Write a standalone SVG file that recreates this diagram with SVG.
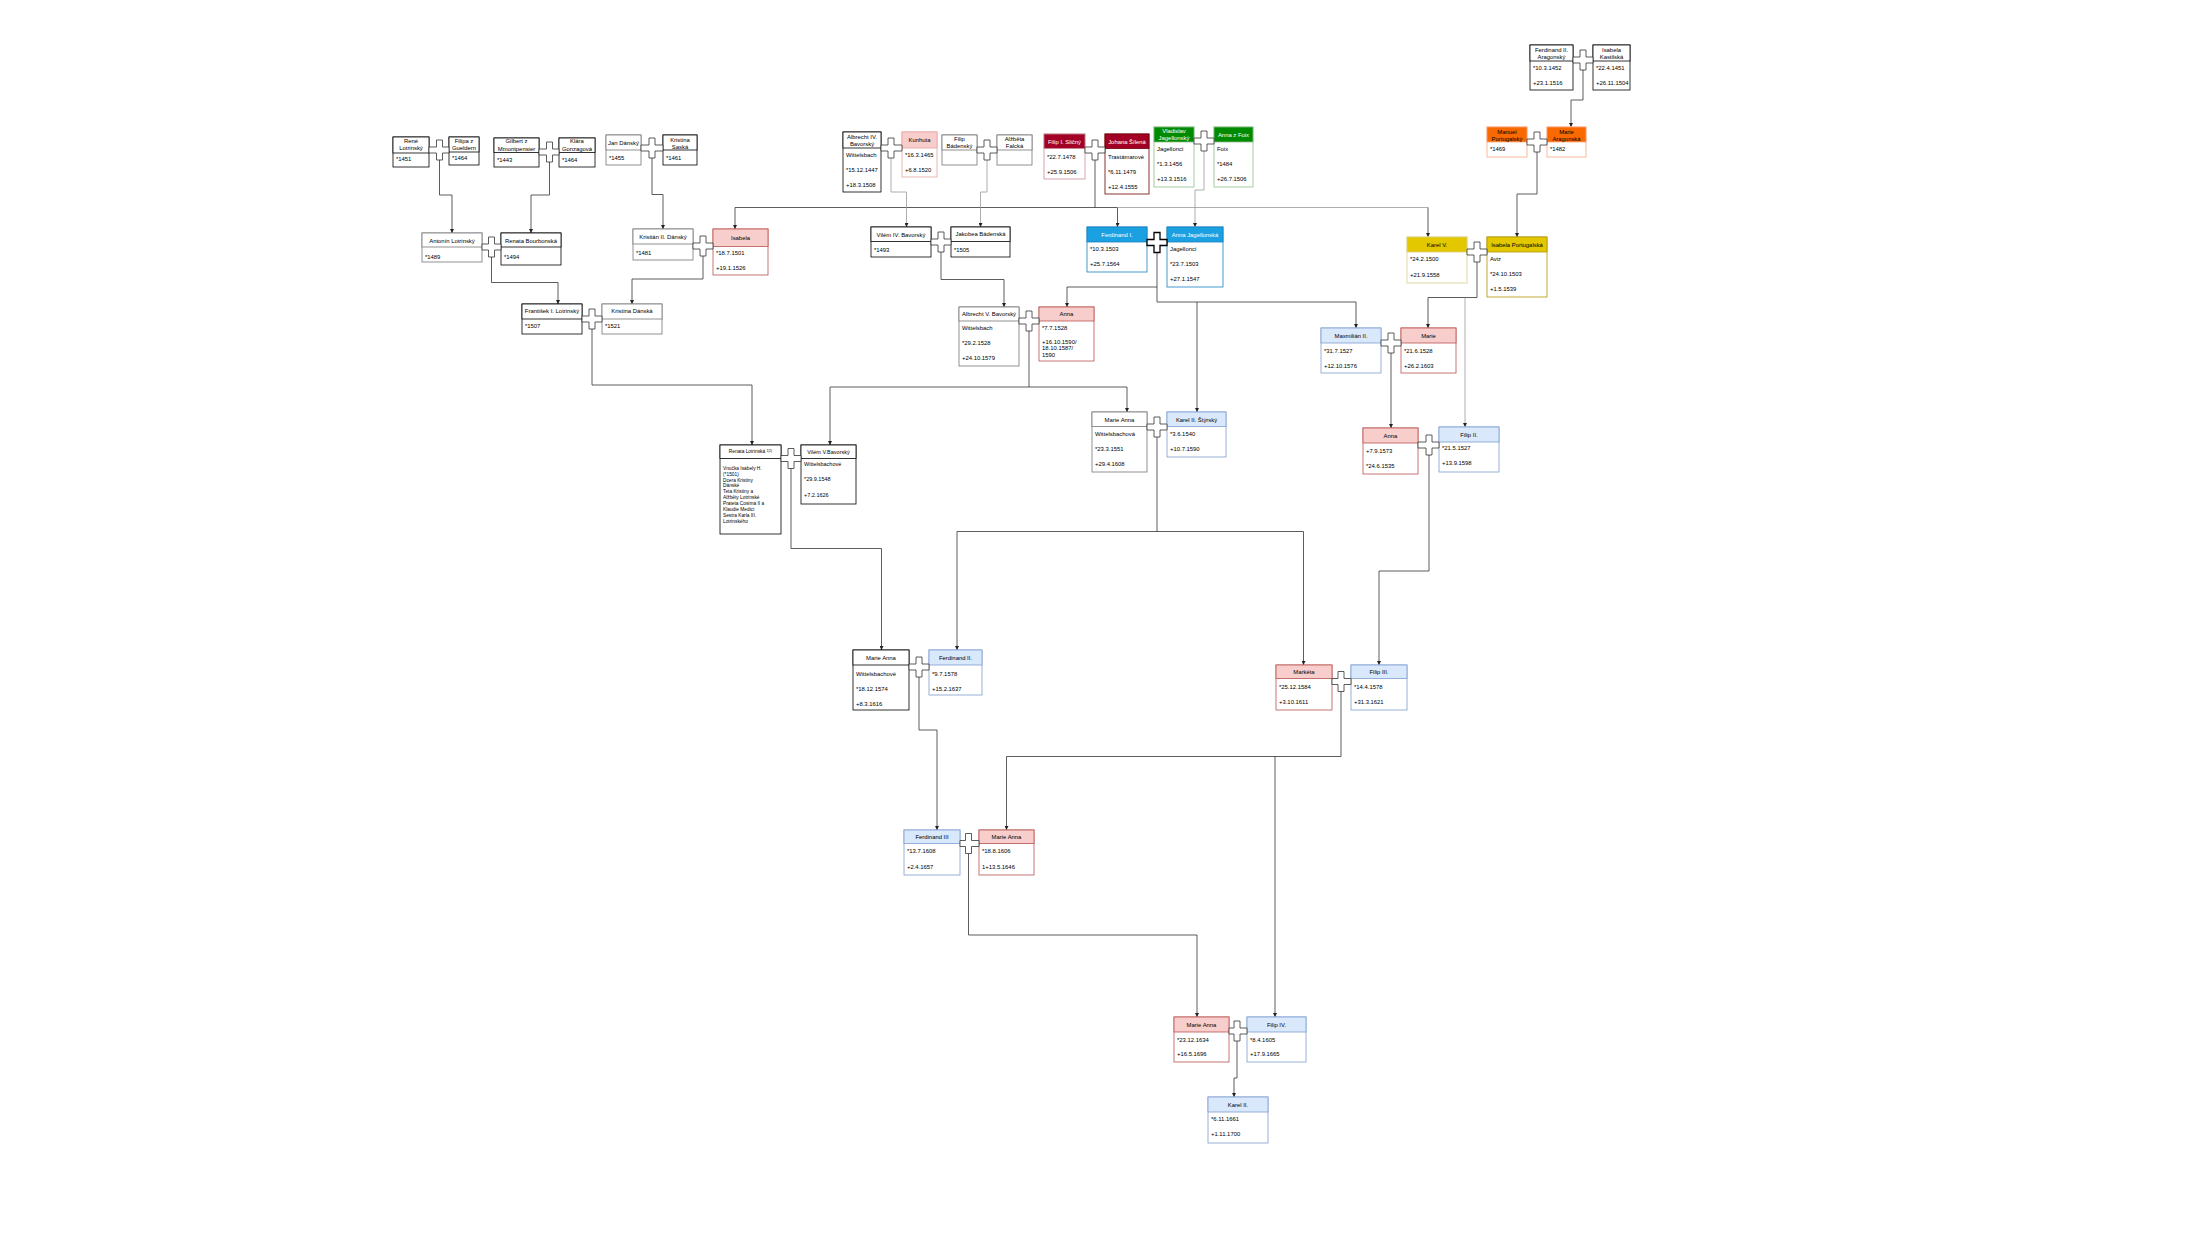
<svg xmlns="http://www.w3.org/2000/svg" width="2205" height="1241" viewBox="0 0 2205 1241">
<style>
rect{stroke-width:0.8}
.bd{fill:#fff}
.k{stroke:#000}.gy{stroke:#777}.pk{stroke:#b85450}.pl{stroke:#e6a3a3}.lb{stroke:#7e9fd0}.bl{stroke:#1a7fc0}.dr{stroke:#6f0000}.dl{stroke:#c98c98}.gr{stroke:#8cbf8c}.ye{stroke:#b09500}.yl{stroke:#d9d08a}.or{stroke:#f4a983}
.fw{fill:#fff}.fpk{fill:#f8cecc}.flb{fill:#dae8fc}.fbl{fill:#1ba1e2}.fdr{fill:#a20025}.fgr{fill:#008a00}.fye{fill:#e3c800}.for{fill:#fa6800}
text{font-family:"Liberation Sans",Arial,Helvetica,sans-serif;font-size:5.9px;fill:#000}
.m{text-anchor:middle}
.w{fill:#fff}
.s{font-size:4.8px}
#connectors path{fill:none;stroke:#333;stroke-width:0.8}
#connectors path.g{stroke:#999}
#marriages path{fill:#fff;stroke:#333;stroke-width:0.8}
</style>
<defs>
<marker id="ar" viewBox="0 0 6 6" refX="6" refY="3" markerUnits="userSpaceOnUse" markerWidth="4" markerHeight="4" orient="auto"><path d="M0,0 L6,3 L0,6 z" fill="#222"/></marker>
</defs>
<rect x="0" y="0" width="2205" height="1241" fill="#fff"/>

<g id="connectors">
<path d="M439.5,160 V195 H452 V233" marker-end="url(#ar)"/>
<path d="M549.5,162 V195 H531 V233" marker-end="url(#ar)"/>
<path d="M652,158 V194.5 H663 V229" marker-end="url(#ar)"/>
<path d="M1095,160 V207.5 H735 V229" marker-end="url(#ar)"/>
<path d="M1095,207.5 H1117.5 V227" marker-end="url(#ar)"/>
<path class="g" d="M1117.5,207.5 H1428"/>
<path d="M1428,207.5 V237" marker-end="url(#ar)"/>
<path class="g" d="M891,158 V192 H906.5 V227" marker-end="url(#ar)"/>
<path class="g" d="M987,160 V192 H980.5 V227" marker-end="url(#ar)"/>
<path class="g" d="M1204,151 V190 H1195 V227" marker-end="url(#ar)"/>
<path d="M1537,152 V194 H1517 V237" marker-end="url(#ar)"/>
<path d="M1583,70 V100 H1571 V127" marker-end="url(#ar)"/>
<path d="M491.5,257 V282.5 H558 V304" marker-end="url(#ar)"/>
<path d="M703,256 V279 H632 V304" marker-end="url(#ar)"/>
<path d="M941,252 V279.5 H1004 V307" marker-end="url(#ar)"/>
<path d="M1157,252.5 V287 H1067 V307" marker-end="url(#ar)"/>
<path d="M1157,287 V302 H1356 V328" marker-end="url(#ar)"/>
<path d="M1197,302 V412" marker-end="url(#ar)"/>
<path d="M1477,262 V297.5 H1428 V328" marker-end="url(#ar)"/>
<path class="g" d="M1465,297.5 V427" marker-end="url(#ar)"/>
<path d="M1391,353 V428" marker-end="url(#ar)"/>
<path d="M592,329 V385 H752 V445" marker-end="url(#ar)"/>
<path d="M1029,331 V387 H830 V445" marker-end="url(#ar)"/>
<path d="M1029,387 H1127 V412" marker-end="url(#ar)"/>
<path d="M791,468.5 V548.5 H881.5 V650" marker-end="url(#ar)"/>
<path d="M1157,437 V531.5 H957 V650" marker-end="url(#ar)"/>
<path d="M1157,531.5 H1303.5 V665" marker-end="url(#ar)"/>
<path d="M1429,455 V571 H1379 V665" marker-end="url(#ar)"/>
<path d="M919,677 V730 H937 V830" marker-end="url(#ar)"/>
<path d="M1341,691.5 V756.5 H1006.5 V830" marker-end="url(#ar)"/>
<path d="M1275,756.5 V1017" marker-end="url(#ar)"/>
<path d="M968.5,853.5 V935 H1197 V1017" marker-end="url(#ar)"/>
<path d="M1237,1041 V1078 H1234 V1097" marker-end="url(#ar)"/>
</g>

<g id="n-rene"><rect class="bd k" x="393" y="137" width="36" height="30"/><rect class="fw k" x="393" y="137" width="36" height="16"/><text class="m" x="411" y="143">René</text><text class="m" x="411" y="150.3">Lotrinský</text><text x="396" y="161">*1451</text></g>
<g id="n-filipa"><rect class="bd k" x="449" y="137" width="30" height="28"/><rect class="fw k" x="449" y="137" width="30" height="15"/><text class="m" x="464" y="142.5">Filipa z</text><text class="m" x="464" y="149.8">Gueldern</text><text x="452" y="160">*1464</text></g>
<g id="n-gilbert"><rect class="bd k" x="494" y="138" width="45" height="29"/><rect class="fw k" x="494" y="138" width="45" height="14.5"/><text class="m" x="516.5" y="143.3">Gilbert z</text><text class="m" x="516.5" y="150.5">Mmontpensier</text><text x="497" y="161.5">*1443</text></g>
<g id="n-klara"><rect class="bd k" x="559" y="138" width="36" height="29"/><rect class="fw k" x="559" y="138" width="36" height="14.5"/><text class="m" x="577" y="143.3">Klára</text><text class="m" x="577" y="150.5">Gonzagová</text><text x="562" y="161.5">*1464</text></g>
<g id="n-jan"><rect class="bd gy" x="606" y="135" width="35" height="30"/><rect class="fw gy" x="606" y="135" width="35" height="15"/><text class="m" x="623.5" y="144.8">Jan Dánský</text><text x="609" y="159.5">*1455</text></g>
<g id="n-kristina-saska"><rect class="bd k" x="663" y="135" width="34" height="30"/><rect class="fw k" x="663" y="135" width="34" height="15"/><text class="m" x="680" y="141.5">Kristina</text><text class="m" x="680" y="148.8">Saská</text><text x="666" y="159.5">*1461</text></g>

<g id="n-antonin"><rect class="bd gy" x="422" y="233" width="60" height="29"/><rect class="fw gy" x="422" y="233" width="60" height="14"/><text class="m" x="452" y="242.8">Antonín Lotrinský</text><text x="425" y="258.5">*1489</text></g>
<g id="n-renata-b"><rect class="bd k" x="501" y="233" width="60" height="32"/><rect class="fw k" x="501" y="233" width="60" height="14"/><text class="m" x="531" y="242.8">Renata Bourbonská</text><text x="504" y="258.5">*1494</text></g>
<g id="n-kristian"><rect class="bd gy" x="633" y="229" width="60" height="31"/><rect class="fw gy" x="633" y="229" width="60" height="15"/><text class="m" x="663" y="239.3">Kristián II. Dánský</text><text x="636" y="254.8">*1481</text></g>
<g id="n-isabela"><rect class="bd pk" x="713" y="229" width="55" height="46"/><rect class="fpk pk" x="713" y="229" width="55" height="17.5"/><text class="m" x="740.5" y="239.8">Isabela</text><text x="716" y="254.8">*18.7.1501</text><text x="716" y="269.8">+19.1.1526</text></g>
<g id="n-frantisek"><rect class="bd k" x="522" y="304" width="60" height="30"/><rect class="fw k" x="522" y="304" width="60" height="15"/><text class="m" x="552" y="313.3">František I. Lotrinský</text><text x="525" y="328.3">*1507</text></g>
<g id="n-kristina-danska"><rect class="bd gy" x="602" y="304" width="60" height="30"/><rect class="fw gy" x="602" y="304" width="60" height="15"/><text class="m" x="632" y="313.3">Kristina Dánská</text><text x="605" y="328.3">*1521</text></g>

<g id="n-albrecht4"><rect class="bd k" x="843" y="132" width="38" height="60"/><rect class="fw k" x="843" y="132" width="38" height="16"/><text class="m" x="862" y="138.5">Albrecht IV.</text><text class="m" x="862" y="145.5">Bavorský</text><text x="846" y="156.5">Wittelsbach</text><text x="846" y="171.5">*15.12.1447</text><text x="846" y="186.5">+18.3.1508</text></g>
<g id="n-kunhuta"><rect class="bd pl" x="902" y="132" width="35" height="45"/><rect class="fpk pl" x="902" y="132" width="35" height="16"/><text class="m" x="919.5" y="142.2">Kunhuta</text><text x="905" y="156.5">*16.3.1465</text><text x="905" y="171.5">+6.8.1520</text></g>
<g id="n-filip-b"><rect class="bd gy" x="942" y="135" width="35" height="30"/><rect class="fw gy" x="942" y="135" width="35" height="15"/><text class="m" x="959.5" y="140.5">Filip</text><text class="m" x="959.5" y="148">Bádenský</text></g>
<g id="n-alzbeta"><rect class="bd gy" x="997" y="135" width="35" height="30"/><rect class="fw gy" x="997" y="135" width="35" height="15"/><text class="m" x="1014.5" y="140.5">Alžběta</text><text class="m" x="1014.5" y="148">Falcká</text></g>
<g id="n-filip1"><rect class="bd dl" x="1044" y="134" width="41" height="45"/><rect class="fdr dl" x="1044" y="134" width="41" height="14.5"/><text class="m w" x="1064.5" y="143.5">Filip I. Sličný</text><text x="1047" y="158.8">*22.7.1478</text><text x="1047" y="173.8">+25.9.1506</text></g>
<g id="n-johana"><rect class="bd dr" x="1105" y="134" width="44" height="60"/><rect class="fdr dr" x="1105" y="134" width="44" height="14.5"/><text class="m w" x="1127" y="143.5">Johana Šílená</text><text x="1108" y="158.8">Trastámarové</text><text x="1108" y="173.8">*6.11.1479</text><text x="1108" y="188.8">+12.4.1555</text></g>
<g id="n-vladislav"><rect class="bd gr" x="1154" y="127" width="40" height="60"/><rect class="fgr gr" x="1154" y="127" width="40" height="15"/><text class="m w" x="1174" y="132.6">Vladislav</text><text class="m w" x="1174" y="139.8">Jagellonský</text><text x="1157" y="151.4">Jagellonci</text><text x="1157" y="166.4">*1.3.1456</text><text x="1157" y="181.4">+13.3.1516</text></g>
<g id="n-anna-foix"><rect class="bd gr" x="1214" y="127" width="39" height="60"/><rect class="fgr gr" x="1214" y="127" width="39" height="15"/><text class="m w" x="1233.5" y="136.8">Anna z Foix</text><text x="1217" y="151.4">Foix</text><text x="1217" y="166.4">*1484</text><text x="1217" y="181.4">+26.7.1506</text></g>
<g id="n-ferdinand-ar"><rect class="bd k" x="1530" y="45" width="43" height="45"/><rect class="fw k" x="1530" y="45" width="43" height="16"/><text class="m" x="1551.5" y="51.8">Ferdinand II.</text><text class="m" x="1551.5" y="59">Aragonský</text><text x="1533" y="70.4">*10.3.1452</text><text x="1533" y="84.8">+23.1.1516</text></g>
<g id="n-isabela-k"><rect class="bd k" x="1593" y="45" width="37" height="45"/><rect class="fw k" x="1593" y="45" width="37" height="16"/><text class="m" x="1611.5" y="51.8">Isabela</text><text class="m" x="1611.5" y="59">Kastilská</text><text x="1596" y="70.4">*22.4.1451</text><text x="1596" y="84.8">+26.11.1504</text></g>
<g id="n-manuel"><rect class="bd or" x="1487" y="127" width="40" height="30"/><rect class="for or" x="1487" y="127" width="40" height="15"/><text class="m" x="1507" y="133.6">Manuel</text><text class="m" x="1507" y="140.8">Portugalský</text><text x="1490" y="151.2">*1469</text></g>
<g id="n-marie-ar"><rect class="bd or" x="1547" y="127" width="39" height="30"/><rect class="for or" x="1547" y="127" width="39" height="15"/><text class="m" x="1566.5" y="133.6">Marie</text><text class="m" x="1566.5" y="140.8">Aragonská</text><text x="1550" y="151.2">*1482</text></g>

<g id="n-vilem4"><rect class="bd k" x="871" y="227" width="60" height="30"/><rect class="fw k" x="871" y="227" width="60" height="14.5"/><text class="m" x="901" y="236.6">Vilém IV. Bavorský</text><text x="874" y="252">*1493</text></g>
<g id="n-jakobea"><rect class="bd k" x="951" y="227" width="59" height="30"/><rect class="fw k" x="951" y="227" width="59" height="14.5"/><text class="m" x="980.5" y="236.3">Jakobea Bádenská</text><text x="954" y="252">*1505</text></g>
<g id="n-ferdinand1"><rect class="bd bl" x="1087" y="227" width="60" height="45"/><rect class="fbl bl" x="1087" y="227" width="60" height="15"/><text class="m w" x="1117" y="236.6">Ferdinand I.</text><text x="1090" y="251.4">*10.3.1503</text><text x="1090" y="266.4">+25.7.1564</text></g>
<g id="n-anna-jag"><rect class="bd bl" x="1167" y="227" width="56" height="60"/><rect class="fbl bl" x="1167" y="227" width="56" height="15"/><text class="m w" x="1195" y="236.6">Anna Jagellonská</text><text x="1170" y="251.4">Jagellonci</text><text x="1170" y="266.4">*23.7.1503</text><text x="1170" y="281.4">+27.1.1547</text></g>
<g id="n-karel5"><rect class="bd yl" x="1407" y="237" width="60" height="46"/><rect class="fye yl" x="1407" y="237" width="60" height="15"/><text class="m" x="1437" y="246.8">Karel V.</text><text x="1410" y="261.4">*24.2.1500</text><text x="1410" y="276.8">+21.9.1558</text></g>
<g id="n-isabela-p"><rect class="bd ye" x="1487" y="237" width="60" height="60"/><rect class="fye ye" x="1487" y="237" width="60" height="15"/><text class="m" x="1517" y="246.8">Isabela Portugalská</text><text x="1490" y="261.4">Aviz</text><text x="1490" y="276.4">*24.10.1503</text><text x="1490" y="291.4">+1.5.1539</text></g>

<g id="n-albrecht5"><rect class="bd gy" x="959" y="307" width="60" height="59"/><rect class="fw gy" x="959" y="307" width="60" height="14"/><text class="m" x="989" y="316.3">Albrecht V. Bavorský</text><text x="962" y="330.4">Wittelsbach</text><text x="962" y="345.4">*29.2.1528</text><text x="962" y="359.8">+24.10.1579</text></g>
<g id="n-anna-b"><rect class="bd pk" x="1039" y="307" width="55" height="54"/><rect class="fpk pk" x="1039" y="307" width="55" height="14"/><text class="m" x="1066.5" y="316.3">Anna</text><text x="1042" y="330.4">*7.7.1528</text><text x="1042" y="343.6">+16.10.1590/</text><text x="1042" y="350.3">18.10.1587/</text><text x="1042" y="357">1590</text></g>
<g id="n-maxmilian"><rect class="bd lb" x="1321" y="328" width="60" height="45"/><rect class="flb lb" x="1321" y="328" width="60" height="15"/><text class="m" x="1351" y="338">Maxmilián II.</text><text x="1324" y="352.8">*31.7.1527</text><text x="1324" y="367.8">+12.10.1576</text></g>
<g id="n-marie"><rect class="bd pk" x="1401" y="328" width="55" height="45"/><rect class="fpk pk" x="1401" y="328" width="55" height="15"/><text class="m" x="1428.5" y="338">Marie</text><text x="1404" y="352.8">*21.6.1528</text><text x="1404" y="367.8">+26.2.1603</text></g>

<g id="n-renata-l"><rect class="bd k" x="720" y="445" width="61" height="89"/><rect class="fw k" x="720" y="445" width="61" height="13.5"/><text class="m" x="750.5" y="453" style="font-size:4.8px">Renata Lotrinská <tspan style="font-size:3.2px" dy="-1.5">1)2)</tspan></text>
<text class="s" x="723" y="469.8">Vnučka Isabely H.</text><text class="s" x="723" y="475.5">(*1501)</text><text class="s" x="723" y="481.7">Dcera Kristiny</text><text class="s" x="723" y="487.2">Dánské</text><text class="s" x="723" y="493.4">Teta Kristiny a</text><text class="s" x="723" y="499">Alžběty Lotrinské</text><text class="s" x="723" y="505">Prateta Cosima II a</text><text class="s" x="723" y="510.6">Klaudie Medici</text><text class="s" x="723" y="516.8">Sestra Karla III.</text><text class="s" x="723" y="522.5">Lotrinského</text></g>
<g id="n-vilem5"><rect class="bd k" x="801" y="445" width="55" height="59"/><rect class="fw k" x="801" y="445" width="55" height="13.5"/><text class="m" x="828.5" y="453.5" style="font-size:5.5px">Vilém V.Bavorský</text><text x="804" y="466.4" style="font-size:5.5px">Wittelsbachové</text><text x="804" y="481" style="font-size:5.5px">*29.9.1548</text><text x="804" y="496.5" style="font-size:5.5px">+7.2.1626</text></g>
<g id="n-marie-anna-w"><rect class="bd gy" x="1092" y="412" width="55" height="60"/><rect class="fw gy" x="1092" y="412" width="55" height="14.5"/><text class="m" x="1119.5" y="422">Marie Anna</text><text x="1095" y="436.4">Wittelsbachová</text><text x="1095" y="451.4">*23.3.1551</text><text x="1095" y="466.4">+29.4.1608</text></g>
<g id="n-karel-s"><rect class="bd lb" x="1167" y="412" width="59" height="45"/><rect class="flb lb" x="1167" y="412" width="59" height="14.5"/><text class="m" x="1196.5" y="422">Karel II. Štýrský</text><text x="1170" y="436.4">*3.6.1540</text><text x="1170" y="451.4">+10.7.1590</text></g>
<g id="n-anna-s"><rect class="bd pk" x="1363" y="428" width="55" height="46"/><rect class="fpk pk" x="1363" y="428" width="55" height="15"/><text class="m" x="1390.5" y="438">Anna</text><text x="1366" y="452.8">+7.9.1573</text><text x="1366" y="468.1">*24.6.1535</text></g>
<g id="n-filip2"><rect class="bd lb" x="1439" y="427" width="60" height="45"/><rect class="flb lb" x="1439" y="427" width="60" height="15"/><text class="m" x="1469" y="436.6">Filip II.</text><text x="1442" y="450.4">*21.5.1527</text><text x="1442" y="465.4">+13.9.1598</text></g>

<g id="n-marie-anna-b"><rect class="bd k" x="853" y="650" width="56" height="60"/><rect class="fw k" x="853" y="650" width="56" height="15"/><text class="m" x="881" y="660">Marie Anna</text><text x="856" y="676.4">Wittelsbachové</text><text x="856" y="691.4">*18.12.1574</text><text x="856" y="706.4">+8.3.1616</text></g>
<g id="n-ferdinand2"><rect class="bd lb" x="929" y="650" width="53" height="45"/><rect class="flb lb" x="929" y="650" width="53" height="15"/><text class="m" x="955.5" y="660">Ferdinand II.</text><text x="932" y="676.4">*9.7.1578</text><text x="932" y="691.4">+15.2.1637</text></g>
<g id="n-marketa"><rect class="bd pk" x="1276" y="665" width="56" height="45"/><rect class="fpk pk" x="1276" y="665" width="56" height="13.5"/><text class="m" x="1304" y="673.8">Markéta</text><text x="1279" y="689.4">*25.12.1584</text><text x="1279" y="704.4">+3.10.1611</text></g>
<g id="n-filip3"><rect class="bd lb" x="1351" y="665" width="56" height="45"/><rect class="flb lb" x="1351" y="665" width="56" height="13.5"/><text class="m" x="1379" y="673.8">Filip III.</text><text x="1354" y="689.4">*14.4.1578</text><text x="1354" y="704.4">+31.3.1621</text></g>
<g id="n-ferdinand3"><rect class="bd lb" x="904" y="830" width="56" height="45"/><rect class="flb lb" x="904" y="830" width="56" height="13.5"/><text class="m" x="932" y="838.8">Ferdinand III</text><text x="907" y="853.1">*13.7.1608</text><text x="907" y="868.8">+2.4.1657</text></g>
<g id="n-marie-anna-s"><rect class="bd pk" x="979" y="830" width="55" height="45"/><rect class="fpk pk" x="979" y="830" width="55" height="13.5"/><text class="m" x="1006.5" y="838.8">Marie Anna</text><text x="982" y="853.1">*18.8.1606</text><text x="982" y="868.8">1+13.5.1646</text></g>
<g id="n-marie-anna-r"><rect class="bd pk" x="1174" y="1017" width="55" height="45"/><rect class="fpk pk" x="1174" y="1017" width="55" height="15"/><text class="m" x="1201.5" y="1027.1">Marie Anna</text><text x="1177" y="1042.1">*23.12.1634</text><text x="1177" y="1055.6">+16.5.1696</text></g>
<g id="n-filip4"><rect class="bd lb" x="1247" y="1017" width="59" height="45"/><rect class="flb lb" x="1247" y="1017" width="59" height="15"/><text class="m" x="1276.5" y="1027.1">Filip IV.</text><text x="1250" y="1042.1">*8.4.1605</text><text x="1250" y="1055.6">+17.9.1665</text></g>
<g id="n-karel2"><rect class="bd lb" x="1208" y="1097" width="60" height="46"/><rect class="flb lb" x="1208" y="1097" width="60" height="15"/><text class="m" x="1238" y="1107.1">Karel II.</text><text x="1211" y="1121.1">*6.11.1661</text><text x="1211" y="1136.1">+1.11.1700</text></g>

<g id="marriages">
<path d="M429,147 H436.5 V140 H442.5 V147 H449 V153 H442.5 V160 H436.5 V153 H429Z"/>
<path d="M539,149 H546.5 V142 H552.5 V149 H559 V155 H552.5 V162 H546.5 V155 H539Z"/>
<path d="M641,145 H649 V138 H655 V145 H663 V151 H655 V158 H649 V151 H641Z"/>
<path d="M482,244 H488.5 V237 H494.5 V244 H501 V250 H494.5 V257 H488.5 V250 H482Z"/>
<path d="M693,243 H700 V236 H706 V243 H713 V249 H706 V256 H700 V249 H693Z"/>
<path d="M582,316 H589 V309 H595 V316 H602 V322 H595 V329 H589 V322 H582Z"/>
<path d="M881,145 H888 V138 H894 V145 H902 V151 H894 V158 H888 V151 H881Z"/>
<path d="M977,147 H984 V140 H990 V147 H997 V153 H990 V160 H984 V153 H977Z"/>
<path d="M1085,147 H1092 V140 H1098 V147 H1105 V153 H1098 V160 H1092 V153 H1085Z"/>
<path d="M1194,138 H1201 V131 H1207 V138 H1214 V144 H1207 V151 H1201 V144 H1194Z"/>
<path d="M1573,57 H1580 V50 H1586 V57 H1593 V63 H1586 V70 H1580 V63 H1573Z"/>
<path d="M1527,139 H1534 V132 H1540 V139 H1547 V145 H1540 V152 H1534 V145 H1527Z"/>
<path d="M931,239 H938 V232 H944 V239 H951 V245 H944 V252 H938 V245 H931Z"/>
<path d="M1147,239.5 H1154 V232.5 H1160 V239.5 H1167 V245.5 H1160 V252.5 H1154 V245.5 H1147Z" style="stroke:#000;stroke-width:1.3"/>
<path d="M1467,249 H1474 V242 H1480 V249 H1487 V255 H1480 V262 H1474 V255 H1467Z"/>
<path d="M1019,318 H1026 V311 H1032 V318 H1039 V324 H1032 V331 H1026 V324 H1019Z"/>
<path d="M1381,340 H1388 V333 H1394 V340 H1401 V346 H1394 V353 H1388 V346 H1381Z"/>
<path d="M781,455.5 H788 V448.5 H794 V455.5 H801 V461.5 H794 V468.5 H788 V461.5 H781Z"/>
<path d="M1147,424 H1154 V417 H1160 V424 H1167 V430 H1160 V437 H1154 V430 H1147Z"/>
<path d="M1418,442 H1426 V435 H1432 V442 H1439 V448 H1432 V455 H1426 V448 H1418Z"/>
<path d="M909,664 H916 V657 H922 V664 H929 V670 H922 V677 H916 V670 H909Z"/>
<path d="M1332,678.5 H1338 V671.5 H1344 V678.5 H1351 V684.5 H1344 V691.5 H1338 V684.5 H1332Z"/>
<path d="M960,840.5 H965.5 V833.5 H971.5 V840.5 H979 V846.5 H971.5 V853.5 H965.5 V846.5 H960Z"/>
<path d="M1229,1028 H1234 V1021 H1240 V1028 H1247 V1034 H1240 V1041 H1234 V1034 H1229Z"/>
</g>
</svg>
